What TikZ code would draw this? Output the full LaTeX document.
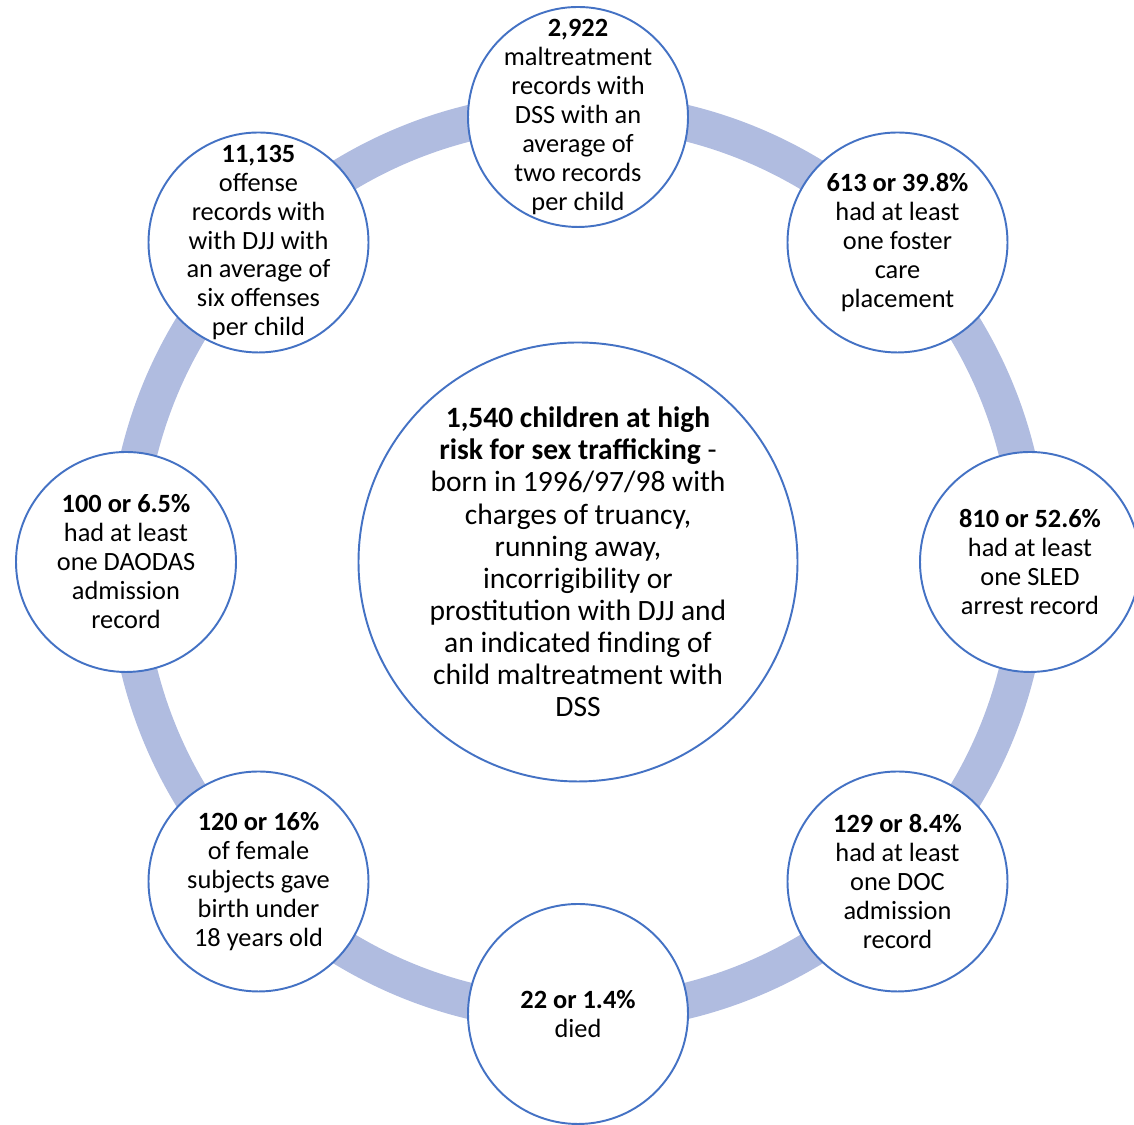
\documentclass[tikz,border=0pt]{standalone}
\usepackage{fontspec}
\setmainfont{Carlito}
\definecolor{anel}{HTML}{B0BCE0}
\definecolor{borda}{HTML}{4472C4}
\tikzset{
  bolha/.style={circle, draw=borda, line width=1.1pt, fill=white, minimum size=4.4cm, inner sep=0pt},
  rotulo/.style={align=center, inner sep=0pt, font=\fontsize{15pt}{16.5pt}\selectfont},
  centro/.style={circle, draw=borda, line width=1.1pt, fill=white, minimum size=8.78cm, inner sep=0pt},
  rotulomeio/.style={align=center, inner sep=0pt, font=\fontsize{16.8pt}{18.3pt}\selectfont}
}
\begin{document}
\begin{tikzpicture}
    \useasboundingbox (0,0) rectangle (22.68,22.5);
    \coordinate (c) at (11.56,11.26);

    % Anel
    \draw[anel, line width=0.72cm] (c) circle (9.04);

    % Circulo central
    \node[centro] (meio) at (c) {};
    \node[rotulomeio] at (meio) {\textbf{1,540 children at high}\\\textbf{risk for sex trafficking} -\\born in 1996/97/98 with\\charges of truancy,\\running away,\\incorrigibility or\\prostitution with DJJ and\\an indicated finding of\\child maltreatment with\\DSS};

    % Circulos em volta
    \node[bolha] (dss) at (11.56,20.16) {};
    \node[bolha] (adocao) at (17.95,17.65) {};
    \node[bolha] (sled) at (20.60,11.26) {};
    \node[bolha] (doc) at (17.95,4.87) {};
    \node[bolha] (obito) at (11.56,2.22) {};
    \node[bolha] (parto) at (5.17,4.87) {};
    \node[bolha] (daodas) at (2.52,11.26) {};
    \node[bolha] (djj) at (5.17,17.65) {};

    % Textos
    \node[rotulo] at (dss) {\textbf{2,922}\\maltreatment\\records with\\DSS with an\\average of\\two records\\per child};
    \node[rotulo] at (adocao) {\textbf{613 or 39.8\%}\\had at least\\one foster\\care\\placement};
    \node[rotulo] at (sled) {\textbf{810 or 52.6\%}\\had at least\\one SLED\\arrest record};
    \node[rotulo] at (doc) {\textbf{129 or 8.4\%}\\had at least\\one DOC\\admission\\record};
    \node[rotulo] at (obito) {\textbf{22 or 1.4\%}\\died};
    \node[rotulo] at (parto) {\textbf{120 or 16\%}\\of female\\subjects gave\\birth under\\18 years old};
    \node[rotulo] at (daodas) {\textbf{100 or 6.5\%}\\had at least\\one DAODAS\\admission\\record};
    \node[rotulo] at (djj) {\textbf{11,135}\\offense\\records with\\with DJJ with\\an average of\\six offenses\\per child};
\end{tikzpicture}
\end{document}
